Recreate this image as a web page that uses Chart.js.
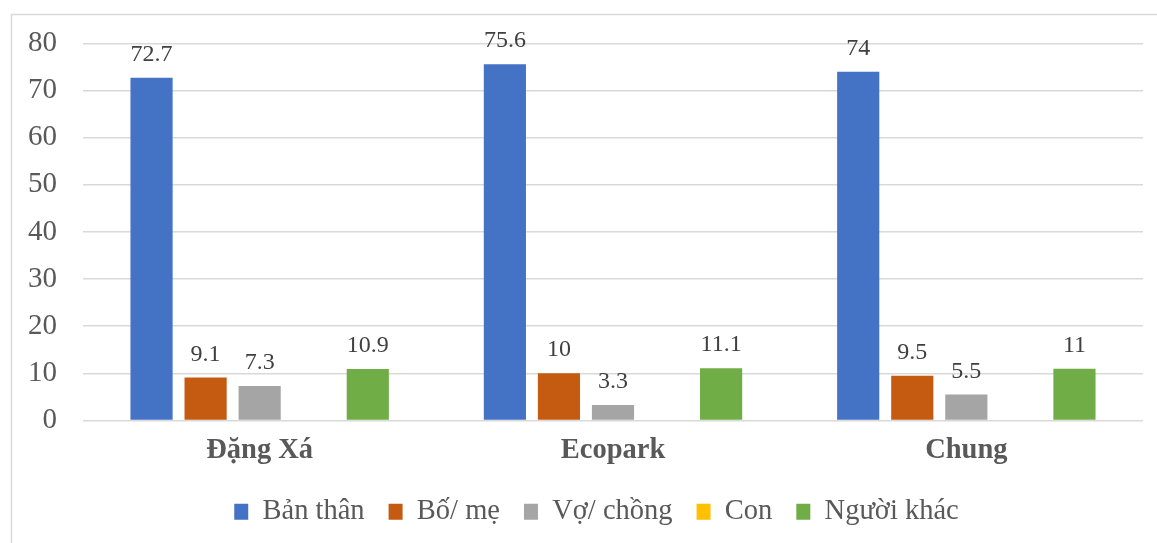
<!DOCTYPE html>
<html>
<head>
<meta charset="utf-8">
<script src="https://cdn.jsdelivr.net/npm/chart.js@4/dist/chart.umd.min.js"></script>
<style>
  html, body { margin: 0; padding: 0; background: #ffffff; }
  #wrap { width: 1157px; height: 543px; }
</style>
</head>
<body>
<div id="wrap"><canvas id="chart" width="1157" height="543"></canvas></div>
<script>
// Categories and tick labels
const categories = ['Đặng Xá', 'Ecopark', 'Chung'];
const yTicks = [0, 10, 20, 30, 40, 50, 60, 70, 80];

// Series values (percent)
const banThan   = [72.7, 75.6, 74];
const boMe      = [9.1, 10, 9.5];
const voChong   = [7.3, 3.3, 5.5];
const con       = [null, null, null];
const nguoiKhac = [10.9, 11.1, 11];

const FONT = '"Liberation Serif", "Times New Roman", serif';

// Light grey frame around the chart
const framePlugin = {
  id: 'frame',
  beforeDraw(chart) {
    const ctx = chart.ctx;
    ctx.save();
    ctx.fillStyle = '#ffffff';
    ctx.fillRect(0, 0, chart.width, chart.height);
    ctx.strokeStyle = '#D9D9D9';
    ctx.lineWidth = 1.5;
    ctx.strokeRect(11.5, 14.5, chart.width + 50, chart.height + 50);
    ctx.restore();
  }
};

// Nudge the legend so it is centred under the plot area rather than the canvas
const legendShift = {
  id: 'legendShift',
  afterLayout(chart) {
    const lg = chart.legend;
    if (!lg) return;
    lg.left += 15;
    lg.right += 15;
  }
};

// Value labels above each bar
const valueLabels = {
  id: 'valueLabels',
  afterDatasetsDraw(chart) {
    const ctx = chart.ctx;
    ctx.save();
    ctx.font = '24px ' + FONT;
    ctx.fillStyle = '#404040';
    ctx.textAlign = 'center';
    ctx.textBaseline = 'alphabetic';
    chart.data.datasets.forEach((ds, i) => {
      const meta = chart.getDatasetMeta(i);
      if (meta.hidden) return;
      meta.data.forEach((bar, j) => {
        const v = ds.data[j];
        if (v === null || v === undefined) return;
        ctx.fillText(String(v), bar.x, bar.y - 17);
      });
    });
    ctx.restore();
  }
};

new Chart(document.getElementById('chart'), {
  type: 'bar',
  data: {
    labels: categories,
    datasets: [
      { label: 'Bản thân',   data: banThan,   backgroundColor: '#4472C4' },
      { label: 'Bố/ mẹ',     data: boMe,      backgroundColor: '#C55A11' },
      { label: 'Vợ/ chồng',  data: voChong,   backgroundColor: '#A5A5A5' },
      { label: 'Con',        data: con,       backgroundColor: '#FFC000' },
      { label: 'Người khác', data: nguoiKhac, backgroundColor: '#70AD47' }
    ]
  },
  options: {
    responsive: false,
    animation: false,
    datasets: { bar: { categoryPercentage: 0.765, barPercentage: 0.78 } },
    layout: { padding: { left: 20, right: 14, top: 41, bottom: 7 } },
    scales: {
      x: {
        grid: { display: false, drawTicks: false },
        border: { display: false },
        ticks: { color: '#595959', font: { family: FONT, size: 28.5, weight: 'bold' }, padding: 13 },
        afterFit(scale) { scale.height = 53; }
      },
      y: {
        min: 0, max: 80,
        afterBuildTicks(scale) { scale.ticks = yTicks.map(v => ({ value: v })); },
        grid: { color: '#D9D9D9', lineWidth: 1.5, drawTicks: false },
        border: { display: false },
        ticks: { color: '#595959', font: { family: FONT, size: 29 }, padding: 26 },
        afterFit(scale) { scale.width = 63; }
      }
    },
    plugins: {
      legend: {
        position: 'bottom',
        labels: {
          color: '#595959',
          font: { family: FONT, size: 28.5 },
          boxWidth: 14, boxHeight: 16,
          padding: 24
        }
      },
      tooltip: { enabled: false }
    }
  },
  plugins: [framePlugin, legendShift, valueLabels]
});
</script>
</body>
</html>
